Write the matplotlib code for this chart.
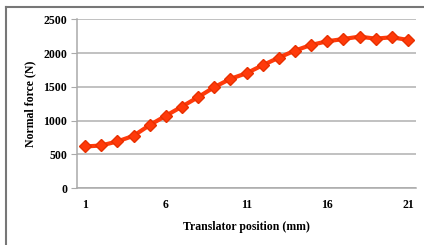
import matplotlib
matplotlib.use("Agg")
import matplotlib.pyplot as plt
from matplotlib.lines import Line2D

positions = list(range(1, 22))
normal_force = [615, 630, 690, 773, 932, 1070, 1207, 1346, 1494, 1617, 1701,
                1819, 1932, 2036, 2120, 2174, 2208, 2243, 2213, 2234, 2194]
x_ticks = [1, 6, 11, 16, 21]
y_ticks = [0, 500, 1000, 1500, 2000, 2500]

plt.rcParams['font.family'] = ['Liberation Serif', 'DejaVu Serif']

fig = plt.figure(figsize=(4.24, 2.45), dpi=100)
ax = fig.add_axes([77/424, 1-188/245, (416-77)/424, (188-19.3)/245])

ax.plot(positions, normal_force, color='#FF3A0A', lw=3, marker='D',
        markersize=6.5, markerfacecolor='#FF3A0A', markeredgecolor='#E83000',
        zorder=3)

fs = 8.5
ax.set_xlim(0.5, 21.5)
ax.set_ylim(0, 2500)
ax.set_xticks(x_ticks)
ax.set_xticklabels([str(v) for v in x_ticks], fontsize=fs, fontweight='bold')
ax.set_yticks(y_ticks)
ax.set_yticklabels([str(v) for v in y_ticks], fontsize=fs, fontweight='bold')
ax.tick_params(axis='x', length=0, pad=8)
ax.tick_params(axis='y', length=4, color='#AAAAAA', pad=3)
ax.grid(axis='y', color='#B0B0B0', lw=1.1)
ax.set_axisbelow(True)
for s in ['top', 'right']:
    ax.spines[s].set_visible(False)
for s in ['left', 'bottom']:
    ax.spines[s].set_color('#AAAAAA')
    ax.spines[s].set_linewidth(1.1)

ax.set_xlabel('Translator position (mm)', fontsize=fs, fontweight='bold', labelpad=7)
ax.set_ylabel('Normal force (N)', fontsize=fs, fontweight='bold', labelpad=5)

fig.add_artist(Line2D([6/424, 6/424], [0, 1-7/245], color='#777777', lw=1.5,
                      transform=fig.transFigure))
fig.add_artist(Line2D([6/424, 1], [1-7/245, 1-7/245], color='#777777', lw=1.5,
                      transform=fig.transFigure))

fig.savefig('out.png', dpi=100)
